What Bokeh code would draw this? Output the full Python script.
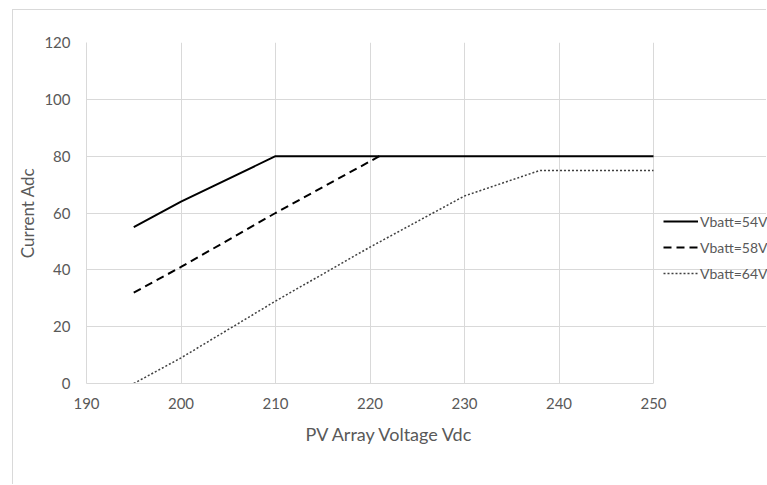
from bokeh.plotting import figure
from bokeh.models import Range1d, FixedTicker, Legend, LegendItem, Title
from bokeh.embed import file_html
from bokeh.resources import INLINE

# Data
x_54 = [195, 200, 210, 250]
y_54 = [55, 64, 80, 80]
x_58 = [195, 200, 210, 221]
y_58 = [32, 41, 60, 80]
x_64 = [195, 200, 210, 220, 230, 238, 250]
y_64 = [0, 9, 29, 48, 66, 75, 75]
series_names = ["Vbatt=54V", "Vbatt=58V", "Vbatt=64V"]
x_ticks = [190, 200, 210, 220, 230, 240, 250]
y_ticks = [0, 20, 40, 60, 80, 100, 120]

FONT = "Lato"
TXT = "#595959"
GRID = "#d9d9d9"

W, H = 754, 475
LEFT, TOP, BOTTOM = 73, 32, 102
PLOT_W = 567  # pixel width of the 190..250 data area
frame_w = W - LEFT
x_end = x_ticks[0] + (x_ticks[-1] - x_ticks[0]) * frame_w / PLOT_W  # room for the legend inside the frame

p = figure(width=W, height=H, output_backend="svg", toolbar_location=None,
           x_range=Range1d(x_ticks[0], x_end), y_range=Range1d(y_ticks[0], y_ticks[-1]),
           min_border_left=LEFT, min_border_right=0, min_border_top=TOP, min_border_bottom=BOTTOM)
p.styles = {"border-left": "1px solid #d9d9d9", "border-top": "1px solid #d9d9d9",
            "margin-left": "12px", "margin-top": "9px"}
p.outline_line_color = None
p.background_fill_color = "white"
p.border_fill_color = "white"

p.xaxis.ticker = FixedTicker(ticks=x_ticks)
p.yaxis.ticker = FixedTicker(ticks=y_ticks)
p.xaxis.bounds = (x_ticks[0], x_ticks[-1])
for ax in (p.xaxis, p.yaxis):
    ax.axis_line_color = GRID
    ax.major_tick_line_color = None
    ax.minor_tick_line_color = None
    ax.major_tick_out = 0
    ax.major_tick_in = 0
    ax.minor_tick_out = 0
    ax.minor_tick_in = 0
    ax.major_label_text_font = FONT
    ax.major_label_text_font_size = "15px"
    ax.major_label_text_color = TXT
    ax.axis_label_text_font = FONT
    ax.axis_label_text_font_style = "normal"
    ax.axis_label_text_color = TXT
p.yaxis.axis_label = "Current Adc"
p.yaxis.axis_label_text_font_size = "17px"
p.xaxis.major_label_standoff = 14
p.yaxis.major_label_standoff = 16
p.yaxis.axis_label_standoff = 3

# x-axis title, centred under the 190..250 data area as in the reference
x_title = Title(text="PV Array Voltage Vdc", align="left", offset=219, standoff=18,
                text_font=FONT, text_font_size="18px", text_font_style="normal",
                text_color=TXT)
p.add_layout(x_title, "below")

p.xgrid.grid_line_color = GRID
p.ygrid.grid_line_color = GRID
p.xgrid.ticker = FixedTicker(ticks=x_ticks)
p.ygrid.ticker = FixedTicker(ticks=y_ticks)
p.ygrid.bounds = (x_ticks[0], x_ticks[-1])

r1 = p.line(x_54, y_54, line_color="black", line_width=2)
r2 = p.line(x_58, y_58, line_color="black", line_width=2, line_dash="8 5")
r3 = p.line(x_64, y_64, line_color="#404040", line_width=1.5, line_dash="2 2")

legend = Legend(items=[LegendItem(label=series_names[0], renderers=[r1]),
                       LegendItem(label=series_names[1], renderers=[r2]),
                       LegendItem(label=series_names[2], renderers=[r3])],
                location=(577, 100), padding=0, margin=0, spacing=6,
                glyph_width=35, glyph_height=20, label_height=20, label_standoff=2,
                label_text_font=FONT, label_text_font_size="14px", label_text_color=TXT,
                border_line_color=None, background_fill_alpha=0)
p.add_layout(legend, "center")

open("out.html", "w").write(file_html(p, INLINE))
